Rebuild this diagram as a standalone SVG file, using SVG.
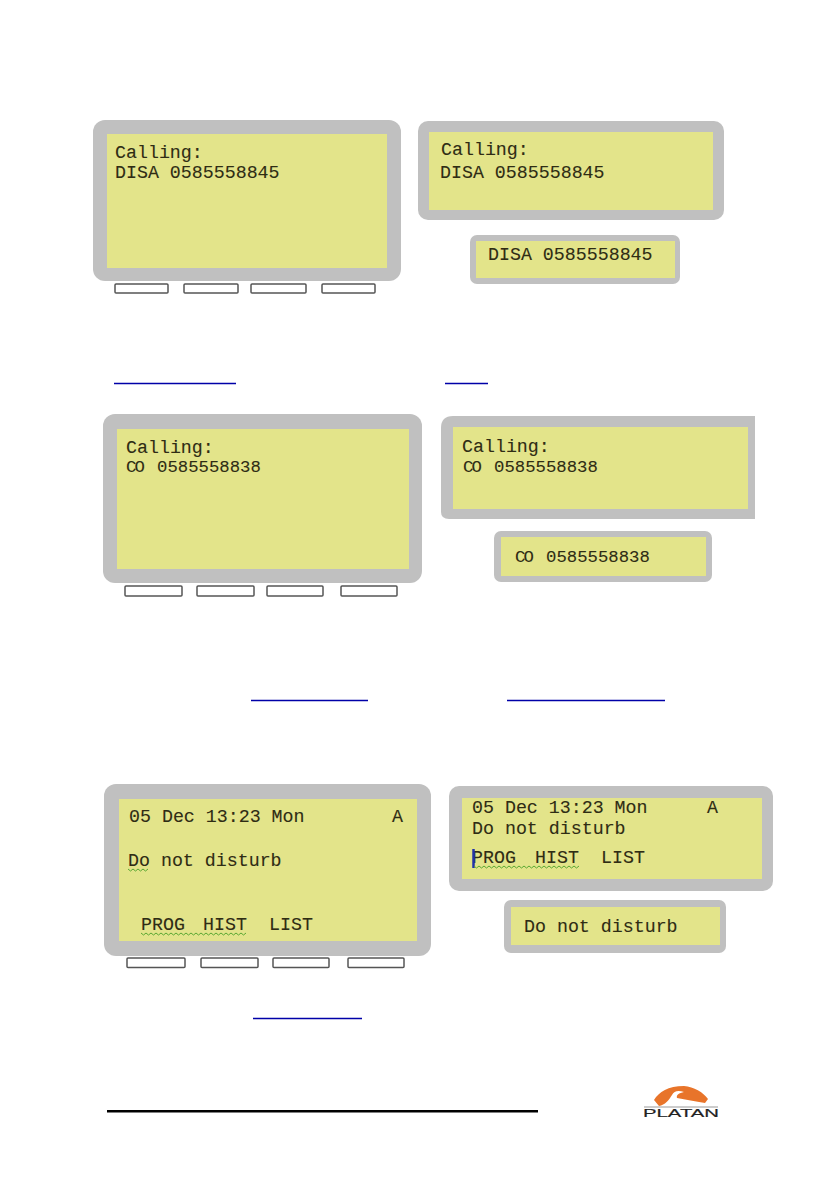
<svg xmlns="http://www.w3.org/2000/svg" width="840" height="1190" viewBox="0 0 840 1190">
<style>
.f{fill:#c0c0c0}
.s{fill:#e3e48a}
.k{fill:#fff;stroke:#555;stroke-width:1.5}
.t{font-family:"Liberation Mono",monospace;font-size:18.300px;fill:#2f2c14;stroke:#2f2c14;stroke-width:.1}
.n{font-size:17.300px}
.l{stroke:#0000a8;stroke-width:1.3;fill:none}
.q{stroke:#5aa832;stroke-width:1;fill:none}
</style>
<rect width="840" height="1190" fill="#fff"/>
<g id="display-disa-large">
<rect class="f" x="93" y="120" width="308" height="161" rx="12"/>
<rect class="s" x="107" y="134" width="280" height="134"/>
<rect class="k" x="115" y="284" width="53" height="9" rx="1"/><rect class="k" x="184" y="284" width="54" height="9" rx="1"/><rect class="k" x="251" y="284" width="55" height="9" rx="1"/><rect class="k" x="322" y="284" width="53" height="9" rx="1"/>
<text class="t" x="115" y="158">Calling:</text><text class="t" x="115" y="178">DISA 0585558845</text>
</g>
<g id="display-disa-medium">
<rect class="f" x="418" y="121" width="306" height="99" rx="10"/>
<rect class="s" x="429" y="132" width="284" height="78"/>
<text class="t" x="441" y="155">Calling:</text><text class="t" x="440" y="178">DISA 0585558845</text>
</g>
<g id="display-disa-small">
<rect class="f" x="470" y="235" width="210" height="49" rx="7"/>
<rect class="s" x="476" y="241" width="199" height="37"/>
<text class="t" x="488" y="260">DISA 0585558845</text>
</g>
<g id="display-co-large">
<rect class="f" x="103" y="414" width="319" height="169" rx="12"/>
<rect class="s" x="117" y="429" width="292" height="140"/>
<rect class="k" x="125" y="586" width="57" height="10" rx="1"/><rect class="k" x="197" y="586" width="57" height="10" rx="1"/><rect class="k" x="267" y="586" width="56" height="10" rx="1"/><rect class="k" x="341" y="586" width="56" height="10" rx="1"/>
<text class="t" x="126" y="453">Calling:</text><text class="t n" x="126" y="472">C<tspan dx="-2">O</tspan><tspan dx="2"> 0585558838</tspan></text>
</g>
<g id="display-co-medium">
<path class="f" d="M453 416H755V519H449Q441 519 441 512V428Q441 416 453 416Z"/>
<rect class="s" x="453" y="427" width="295" height="82"/>
<text class="t" x="462" y="452">Calling:</text><text class="t n" x="463" y="472">C<tspan dx="-2">O</tspan><tspan dx="2"> 0585558838</tspan></text>
</g>
<g id="display-co-small">
<rect class="f" x="494" y="531" width="218" height="51" rx="7"/>
<rect class="s" x="501" y="537" width="205" height="39"/>
<text class="t n" x="515" y="562">C<tspan dx="-2">O</tspan><tspan dx="2"> 0585558838</tspan></text>
</g>
<g id="display-dnd-large">
<rect class="f" x="104" y="784" width="327" height="172" rx="12"/>
<rect class="s" x="119" y="799" width="298" height="142"/>
<rect class="k" x="127" y="958" width="58" height="9.500" rx="1"/><rect class="k" x="201" y="958" width="57" height="9.500" rx="1"/><rect class="k" x="273" y="958" width="56" height="9.500" rx="1"/><rect class="k" x="348" y="958" width="56" height="9.500" rx="1"/>
<text class="t" x="129" y="822">05 Dec 13:23 Mon</text><text class="t" x="392" y="822">A</text>
<text class="t" x="128" y="866">Do not disturb</text>
<text class="t" x="141" y="930">PROG</text><text class="t" x="203" y="930">HIST</text><text class="t" x="269" y="930">LIST</text>
<path class="q" d="M128 869l2.500 2 2.500-2 2.500 2 2.500-2 2.500 2 2.500-2 2.500 2 2.500-2"/>
<path class="q" d="M141 933l2.500 2 2.500-2 2.500 2 2.500-2 2.500 2 2.500-2 2.500 2 2.500-2 2.500 2 2.500-2 2.500 2 2.500-2 2.500 2 2.500-2 2.500 2 2.500-2 2.500 2 2.500-2 2.500 2 2.500-2 2.500 2 2.500-2 2.500 2 2.500-2 2.500 2 2.500-2 2.500 2 2.500-2 2.500 2 2.500-2 2.500 2 2.500-2 2.500 2 2.500-2 2.500 2 2.500-2 2.500 2 2.500-2 2.500 2 2.500-2 2.500 2 2.500-2"/>
</g>
<g id="display-dnd-medium">
<rect class="f" x="449" y="786" width="324" height="105" rx="10"/>
<rect class="s" x="462" y="798" width="300" height="81"/>
<text class="t" x="472" y="813">05 Dec 13:23 Mon</text><text class="t" x="707" y="813">A</text>
<text class="t" x="472" y="834">Do not disturb</text>
<text class="t" x="472" y="863">PROG</text><text class="t" x="535" y="863">HIST</text><text class="t" x="601" y="863">LIST</text>
<path d="M473.500 849V868" stroke="#2233aa" stroke-width="2.500" fill="none"/>
<path class="q" d="M474 866l2.500 2 2.500-2 2.500 2 2.500-2 2.500 2 2.500-2 2.500 2 2.500-2 2.500 2 2.500-2 2.500 2 2.500-2 2.500 2 2.500-2 2.500 2 2.500-2 2.500 2 2.500-2 2.500 2 2.500-2 2.500 2 2.500-2 2.500 2 2.500-2 2.500 2 2.500-2 2.500 2 2.500-2 2.500 2 2.500-2 2.500 2 2.500-2 2.500 2 2.500-2 2.500 2 2.500-2 2.500 2 2.500-2 2.500 2 2.500-2 2.500 2 2.500-2"/>
</g>
<g id="display-dnd-small">
<rect class="f" x="504" y="900" width="222" height="53" rx="7"/>
<rect class="s" x="511" y="907" width="209" height="38"/>
<text class="t" x="524" y="932">Do not disturb</text>
</g>
<g id="link-underlines">
<path class="l" d="M114 383.500H236M445 383.500H488M251 700.500H368M507 700.500H665M253 1018.500H362"/>
</g>
<g id="footer">
<rect x="107" y="1110" width="431" height="2.500" fill="#000"/>
<path d="M654 1100C659 1092 668 1086 684 1086C694 1087 703 1092 708 1099L705 1103C695 1101 686 1100 677 1098C676 1095 679 1093 684 1092C678 1090 674 1091 672 1095C669 1100 665 1105 659 1106Z" fill="#e8742a"/>
<rect x="644" y="1106.500" width="74" height="1" fill="#999"/>
<text x="643" y="1116.500" font-family="'Liberation Sans',sans-serif" font-size="10px" fill="#222" stroke="#222" stroke-width=".15" textLength="76" lengthAdjust="spacingAndGlyphs">PLATAN</text>
</g>
</svg>
